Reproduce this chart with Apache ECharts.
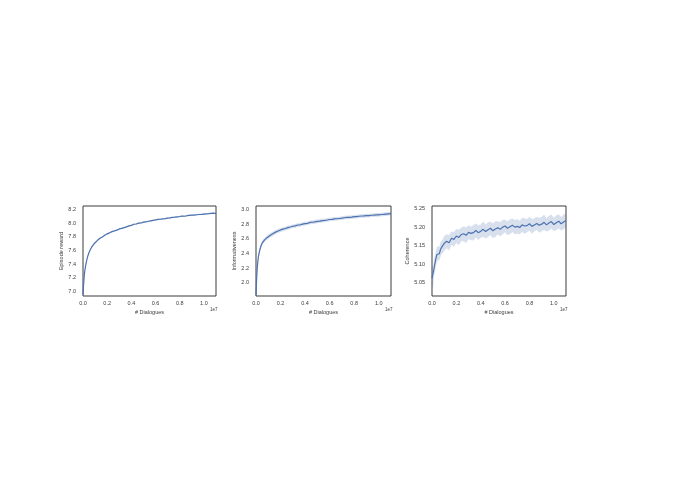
<!DOCTYPE html>
<html>
<head>
<meta charset="utf-8">
<script src="https://cdn.jsdelivr.net/npm/echarts@6/dist/echarts.min.js"></script>
<style>
  html, body { margin: 0; padding: 0; background: #fff; }
  #chart { width: 675px; height: 477px; }
</style>
</head>
<body>
<div id="chart"></div>
<script>
// x positions, in units of 1e7 dialogues
const dialogues = [
  0, 0.005, 0.01, 0.015, 0.02, 0.03, 0.04, 0.05, 0.06, 0.07, 0.08, 0.09, 0.10,
  0.12, 0.14, 0.16, 0.18, 0.20, 0.22, 0.24, 0.26, 0.28, 0.30, 0.32, 0.34, 0.36, 0.38,
  0.40, 0.42, 0.44, 0.46, 0.48, 0.50, 0.52, 0.54, 0.56, 0.58, 0.60, 0.62, 0.64, 0.66,
  0.68, 0.70, 0.72, 0.74, 0.76, 0.78, 0.80, 0.82, 0.84, 0.86, 0.88, 0.90, 0.92, 0.94,
  0.96, 0.98, 1.00, 1.02, 1.04, 1.06, 1.08, 1.10
]

const rewardMean = [
  6.95, 7.10, 7.22, 7.30, 7.36, 7.45, 7.52, 7.57, 7.61, 7.645, 7.67, 7.695, 7.715,
  7.75, 7.78, 7.80, 7.825, 7.845, 7.86, 7.878, 7.888, 7.90, 7.917, 7.925, 7.937, 7.948, 7.962,
  7.97, 7.986, 7.99, 8.002, 8.005, 8.017, 8.02, 8.03, 8.037, 8.044, 8.05, 8.057, 8.06, 8.066,
  8.07, 8.077, 8.08, 8.087, 8.09, 8.095, 8.10, 8.107, 8.104, 8.112, 8.116, 8.12, 8.122, 8.126,
  8.13, 8.132, 8.136, 8.14, 8.142, 8.146, 8.15, 8.145
]
const rewardSpread = [
  0.02, 0.02, 0.02, 0.015, 0.015, 0.012, 0.012, 0.01, 0.01, 0.01, 0.01, 0.01, 0.01,
  0.01, 0.01, 0.01, 0.01, 0.01, 0.01, 0.01, 0.01, 0.01, 0.01, 0.01, 0.01, 0.01, 0.01,
  0.01, 0.01, 0.01, 0.01, 0.01, 0.01, 0.01, 0.01, 0.01, 0.01, 0.01, 0.01, 0.01, 0.01,
  0.01, 0.01, 0.01, 0.01, 0.01, 0.01, 0.01, 0.01, 0.01, 0.01, 0.01, 0.01, 0.01, 0.01,
  0.01, 0.01, 0.01, 0.01, 0.01, 0.01, 0.01, 0.01
]

const infoMean = [
  1.83, 2.05, 2.20, 2.29, 2.36, 2.44, 2.50, 2.54, 2.565, 2.585, 2.60, 2.615, 2.63,
  2.65, 2.67, 2.69, 2.705, 2.72, 2.73, 2.74, 2.752, 2.76, 2.77, 2.775, 2.787, 2.79, 2.80,
  2.805, 2.81, 2.822, 2.825, 2.83, 2.836, 2.84, 2.847, 2.85, 2.855, 2.862, 2.865, 2.87, 2.872,
  2.876, 2.88, 2.886, 2.89, 2.892, 2.895, 2.90, 2.902, 2.906, 2.91, 2.912, 2.916, 2.915, 2.92,
  2.921, 2.925, 2.926, 2.93, 2.932, 2.936, 2.94, 2.942
]
const infoSpread = [
  0.04, 0.04, 0.04, 0.035, 0.035, 0.03, 0.03, 0.03, 0.03, 0.03, 0.03, 0.03, 0.03,
  0.03, 0.03, 0.03, 0.028, 0.028, 0.028, 0.028, 0.028, 0.025, 0.025, 0.025, 0.025, 0.025, 0.025,
  0.025, 0.025, 0.025, 0.025, 0.025, 0.025, 0.025, 0.025, 0.025, 0.025, 0.025, 0.025, 0.025, 0.025,
  0.025, 0.025, 0.025, 0.025, 0.025, 0.025, 0.025, 0.025, 0.025, 0.025, 0.025, 0.025, 0.025, 0.025,
  0.025, 0.025, 0.025, 0.025, 0.025, 0.025, 0.025, 0.025
]

const coherenceMean = [
  5.062, 5.070, 5.066, 5.085, 5.095, 5.112, 5.126, 5.130, 5.128, 5.140, 5.146, 5.150, 5.156,
  5.162, 5.158, 5.170, 5.167, 5.176, 5.172, 5.180, 5.182, 5.178, 5.186, 5.183, 5.185, 5.191, 5.185,
  5.189, 5.194, 5.188, 5.193, 5.197, 5.190, 5.195, 5.198, 5.194, 5.200, 5.203, 5.197, 5.201, 5.205,
  5.200, 5.202, 5.199, 5.206, 5.203, 5.204, 5.209, 5.202, 5.206, 5.210, 5.205, 5.208, 5.213, 5.206,
  5.211, 5.215, 5.207, 5.212, 5.216, 5.209, 5.214, 5.218
]
const coherenceSpread = [
  0.03, 0.028, 0.025, 0.024, 0.022, 0.02, 0.02, 0.019, 0.018, 0.02, 0.018, 0.019, 0.02,
  0.019, 0.021, 0.018, 0.02, 0.019, 0.021, 0.018, 0.02, 0.021, 0.019, 0.018, 0.021, 0.019, 0.02,
  0.018, 0.021, 0.019, 0.02, 0.018, 0.02, 0.021, 0.018, 0.019, 0.02, 0.017, 0.019, 0.02, 0.018,
  0.019, 0.02, 0.018, 0.019, 0.021, 0.018, 0.019, 0.02, 0.018, 0.017, 0.02, 0.019, 0.021, 0.018,
  0.02, 0.019, 0.018, 0.02, 0.019, 0.018, 0.02, 0.019
]

const xTicks = [0, 0.2, 0.4, 0.6, 0.8, 1.0]
const rewardTicks = [7.0, 7.2, 7.4, 7.6, 7.8, 8.0, 8.2]
const infoTicks = [2.0, 2.2, 2.4, 2.6, 2.8, 3.0]
const coherenceTicks = [5.05, 5.10, 5.15, 5.20, 5.25]

const LINE = '#4c72b0'
const BAND = 'rgba(76,114,176,0.22)'
const FONT = 'Liberation Sans'
const TEXT = '#3c3c3c'

const panels = [
  { name: 'Episode reward', mean: rewardMean, spread: rewardSpread, ticks: rewardTicks, digits: 1,
    min: 6.93, max: 8.255, grid: { left: 83, top: 206, width: 133, height: 90 }, gap: 18 },
  { name: 'Informativeness', mean: infoMean, spread: infoSpread, ticks: infoTicks, digits: 1,
    min: 1.82, max: 3.046, grid: { left: 256, top: 206, width: 135, height: 90 }, gap: 17 },
  { name: 'Coherence', mean: coherenceMean, spread: coherenceSpread, ticks: coherenceTicks, digits: 2,
    min: 5.014, max: 5.257, grid: { left: 432, top: 206, width: 134, height: 90 }, gap: 19 },
]

const grids = [], xAxes = [], yAxes = [], series = [], graphics = []

panels.forEach((p, i) => {
  grids.push(Object.assign({ show: true, borderColor: '#3a3a3a', borderWidth: 1, backgroundColor: '#fff' }, p.grid))
  xAxes.push({
    type: 'value', gridIndex: i, min: 0, max: 1.1,
    name: '# Dialogues', nameLocation: 'middle', nameGap: 13,
    nameTextStyle: { fontSize: 5.5, color: TEXT, fontFamily: FONT },
    axisLine: { show: false }, axisTick: { show: false }, splitLine: { show: false },
    axisLabel: { customValues: xTicks, fontSize: 5.5, color: TEXT, fontFamily: FONT, margin: 4,
      formatter: v => v.toFixed(1) },
  })
  yAxes.push({
    type: 'value', gridIndex: i, min: p.min, max: p.max,
    name: p.name, nameLocation: 'middle', nameGap: p.gap,
    nameTextStyle: { fontSize: 5.5, color: TEXT, fontFamily: FONT },
    axisLine: { show: false }, axisTick: { show: false }, splitLine: { show: false },
    axisLabel: { customValues: p.ticks, fontSize: 5.5, color: TEXT, fontFamily: FONT, margin: 7,
      formatter: v => v.toFixed(p.digits) },
  })
  // shaded band: upper edge forward, lower edge back
  series.push({
    type: 'custom', xAxisIndex: i, yAxisIndex: i, silent: true, clip: true,
    data: [[0, p.mean[0]]],
    renderItem: (params, api) => {
      const upper = dialogues.map((x, k) => api.coord([x, p.mean[k] + p.spread[k]]))
      const lower = dialogues.map((x, k) => api.coord([x, p.mean[k] - p.spread[k]])).reverse()
      return { type: 'polygon', shape: { points: upper.concat(lower) }, style: { fill: BAND } }
    },
  })
  series.push({
    type: 'line', xAxisIndex: i, yAxisIndex: i, data: dialogues.map((x, k) => [x, p.mean[k]]),
    symbol: 'none', lineStyle: { color: LINE, width: 1.2 },
  })
  graphics.push({
    type: 'text', left: p.grid.left + p.grid.width - 6, top: 307,
    style: { text: '1e7', fontSize: 4.5, fill: TEXT, fontFamily: FONT },
  })
})

const chart = echarts.init(document.getElementById('chart'))
chart.setOption({
  animation: false,
  grid: grids,
  xAxis: xAxes,
  yAxis: yAxes,
  series: series,
  graphic: graphics,
})
</script>
</body>
</html>
